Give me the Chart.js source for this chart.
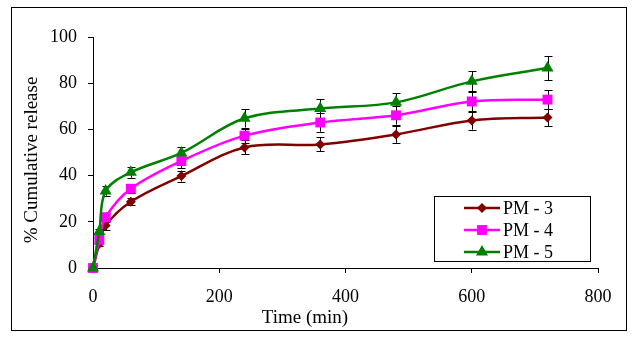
<!DOCTYPE html>
<html>
<head>
<meta charset="utf-8">
<script src="https://cdn.jsdelivr.net/npm/chart.js@4/dist/chart.umd.min.js"></script>
<style>
  html, body { margin: 0; padding: 0; background: #fff; }
  #wrap { width: 638px; height: 340px; }
</style>
</head>
<body>
<div id="wrap"><canvas id="c" width="638" height="340"></canvas></div>
<script>
// ---- data ----
const times = [0, 10, 20, 60, 140, 240, 360, 480, 600, 720];
const seriesNames = ['PM - 3', 'PM - 4', 'PM - 5'];
const pm3 = [0, 10.5, 18.4, 28.7, 39.8, 52.2, 53.5, 57.8, 63.9, 65.2];
const pm4 = [0, 12.2, 22.0, 34.3, 46.3, 57.3, 63.0, 66.1, 72.1, 72.9];
const pm5 = [0, 15.8, 33.3, 41.4, 49.8, 64.8, 69.0, 71.7, 80.8, 86.6];
const pm3Err = [0, 1.0, 1.8, 1.5, 2.4, 3.0, 3.0, 3.6, 4.0, 3.7];
const pm4Err = [0, 1.0, 2.0, 2.0, 3.0, 3.0, 4.0, 4.0, 4.6, 4.0];
const pm5Err = [0, 1.2, 2.0, 2.3, 2.5, 4.0, 4.0, 4.0, 4.5, 5.2];
const xTicks = [0, 200, 400, 600, 800];
const yTicks = [0, 20, 40, 60, 80, 100];
const xTitle = 'Time (min)';
const yTitle = '% Cumulative release';

const colors = ['#800000', '#FF00FF', '#008000'];
const shapes = ['rectRot', 'rect', 'triangle'];
const radii = [5, 7, 7];
const allVals = [pm3, pm4, pm5];
const allErr = [pm3Err, pm4Err, pm5Err];

const FONT = '"Liberation Serif", "Times New Roman", serif';

function toXY(vals) { return vals.map((v, i) => ({ x: times[i], y: v })); }

const datasets = allVals.map((vals, k) => ({
  label: seriesNames[k],
  data: toXY(vals),
  errors: allErr[k],
  order: allVals.length - k,
  borderColor: colors[k],
  backgroundColor: colors[k],
  borderWidth: 2.5,
  pointStyle: shapes[k],
  pointRadius: radii[k],
  pointBorderWidth: 0,
  pointBackgroundColor: colors[k],
  tension: 0.35,
  clip: false,
  fill: false
}));

function drawMarker(ctx, shape, x, y, r, color) {
  ctx.save();
  ctx.fillStyle = color;
  ctx.beginPath();
  if (shape === 'rectRot') {
    ctx.moveTo(x - r, y); ctx.lineTo(x, y - r); ctx.lineTo(x + r, y); ctx.lineTo(x, y + r);
  } else if (shape === 'rect') {
    const s = r * Math.SQRT1_2;
    ctx.rect(x - s, y - s, 2 * s, 2 * s);
  } else {
    const w = r * Math.sin(2 * Math.PI / 3);
    ctx.moveTo(x, y - r); ctx.lineTo(x + w, y + r / 2); ctx.lineTo(x - w, y + r / 2);
  }
  ctx.closePath();
  ctx.fill();
  ctx.restore();
}

const errorBars = {
  id: 'errorBars',
  beforeDatasetsDraw(chart) {
    const ctx = chart.ctx;
    const xs = chart.scales.x, ys = chart.scales.y;
    ctx.save();
    ctx.strokeStyle = '#000';
    ctx.lineWidth = 1;
    chart.data.datasets.forEach(ds => {
      ds.data.forEach((p, i) => {
        const e = ds.errors[i];
        if (!e) return;
        const px = Math.round(xs.getPixelForValue(p.x)) + 0.5;
        const yt = ys.getPixelForValue(p.y + e);
        const yb = ys.getPixelForValue(p.y - e);
        ctx.beginPath();
        ctx.moveTo(px, yt); ctx.lineTo(px, yb);
        ctx.moveTo(px - 4, Math.round(yt) + 0.5); ctx.lineTo(px + 4, Math.round(yt) + 0.5);
        ctx.moveTo(px - 4, Math.round(yb) + 0.5); ctx.lineTo(px + 4, Math.round(yb) + 0.5);
        ctx.stroke();
      });
    });
    ctx.restore();
  }
};

const decor = {
  id: 'decor',
  afterDraw(chart) {
    const ctx = chart.ctx;
    ctx.save();
    // outer frame
    ctx.strokeStyle = '#000';
    ctx.lineWidth = 1;
    ctx.strokeRect(11.5, 7.5, 615, 323);
    // axis titles
    ctx.fillStyle = '#000';
    ctx.font = '19px ' + FONT;
    ctx.textAlign = 'center';
    ctx.textBaseline = 'middle';
    ctx.fillText(xTitle, 305, 318);
    ctx.save();
    ctx.translate(32, 160);
    ctx.rotate(-Math.PI / 2);
    ctx.fillText(yTitle, 0, 0);
    ctx.restore();
    // legend
    ctx.strokeRect(434.5, 196.5, 156, 65);
    ctx.font = '18px ' + FONT;
    ctx.textAlign = 'left';
    const rowY = [208, 230, 252];
    chart.data.datasets.forEach((ds, k) => {
      const y = rowY[k];
      ctx.strokeStyle = ds.borderColor;
      ctx.lineWidth = 2.5;
      ctx.beginPath();
      ctx.moveTo(464, y); ctx.lineTo(500, y);
      ctx.stroke();
      drawMarker(ctx, shapes[k], 482, y, radii[k], colors[k]);
      ctx.fillStyle = '#000';
      ctx.fillText(ds.label, 503, y + 1);
    });
    ctx.restore();
  }
};

new Chart(document.getElementById('c'), {
  type: 'line',
  data: { datasets },
  options: {
    responsive: false,
    animation: false,
    events: [],
    layout: { padding: { left: 0, right: 40, top: 37, bottom: 0 } },
    plugins: { legend: { display: false }, tooltip: { enabled: false } },
    scales: {
      x: {
        type: 'linear',
        min: 0, max: 800,
        afterFit(s) { s.height = 72; },
        afterBuildTicks(s) { s.ticks = xTicks.map(v => ({ value: v })); },
        grid: { drawOnChartArea: false, drawTicks: true, tickLength: 5, color: '#000', tickColor: '#000' },
        border: { display: true, color: '#000', width: 1 },
        ticks: { color: '#000', font: { family: FONT, size: 18 }, padding: 13, maxRotation: 0 }
      },
      y: {
        type: 'linear',
        min: 0, max: 100,
        afterFit(s) { s.width = 93; },
        afterBuildTicks(s) { s.ticks = yTicks.map(v => ({ value: v })); },
        grid: { drawOnChartArea: false, drawTicks: true, tickLength: 5, color: '#000', tickColor: '#000' },
        border: { display: true, color: '#000', width: 1 },
        ticks: { color: '#000', font: { family: FONT, size: 18 }, padding: 11 }
      }
    }
  },
  plugins: [errorBars, decor]
});
</script>
</body>
</html>
